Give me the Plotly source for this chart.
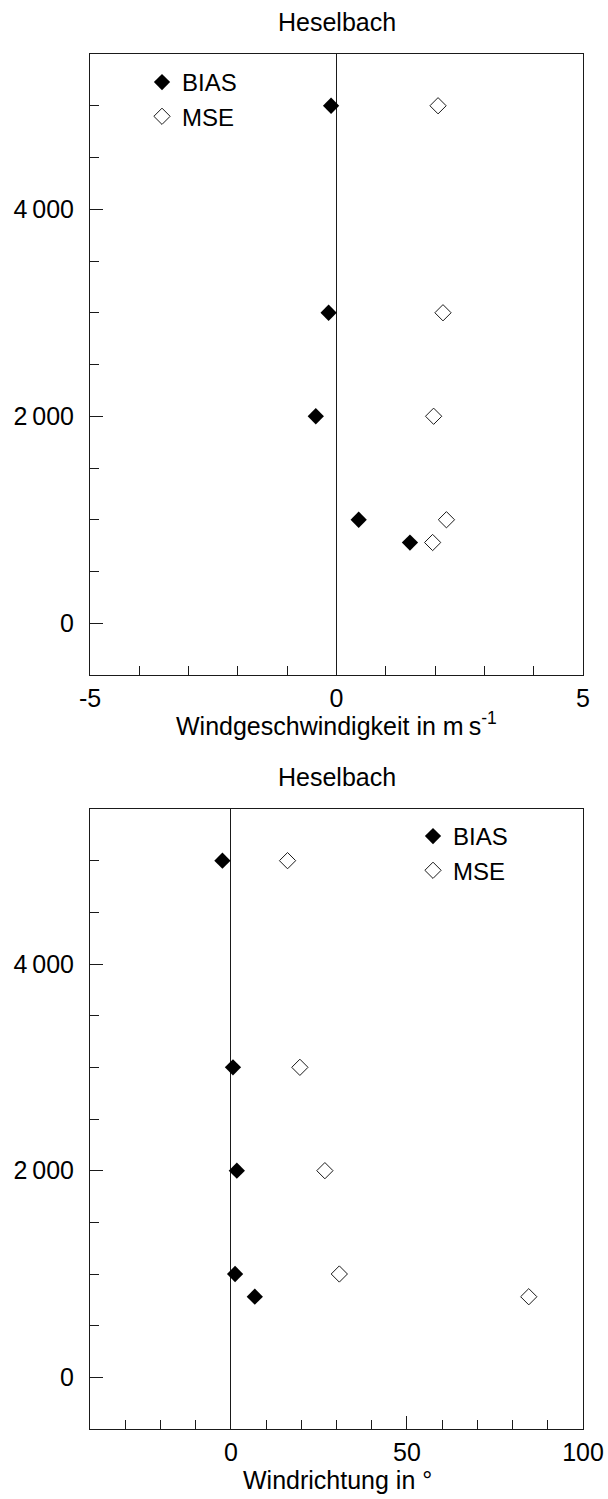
import plotly.graph_objects as go

# Heights (m) of the evaluated levels
heights = [5000, 3000, 2000, 1000, 780]

# Wind speed scores (m/s)
speed_bias = [-0.11, -0.16, -0.42, 0.45, 1.49]
speed_mse = [2.06, 2.16, 1.97, 2.23, 1.95]

# Wind direction scores (degrees)
dir_bias = [-2.4, 0.6, 1.7, 1.2, 6.8]
dir_mse = [16.1, 19.6, 26.7, 30.8, 84.6]

station = "Heselbach"
speed_title = "Windgeschwindigkeit in m\u2009s<sup>-1</sup>"
dir_title = "Windrichtung in °"

y_tickvals = [0, 2000, 4000]
y_ticktext = ["0", "2\u2009000", "4\u2009000"]
speed_tickvals = [-5, 0, 5]
speed_ticktext = ["-5", "0", "5"]
dir_tickvals = [0, 50, 100]
dir_ticktext = ["0", "50", "100"]

W, H = 608, 1499
FONT = "Liberation Sans, Arial, sans-serif"
FS = 25
LINE = "#1a1a1a"

def py(v):
    return 1 - v / H

def px_y(top, bottom):
    return [py(bottom), py(top)]

x_dom = [90 / W, 583 / W]

fig = go.Figure()

def add_pair(bias, mse, xa, ya, legend):
    fig.add_trace(go.Scatter(
        x=bias, y=heights, mode="markers", name="BIAS",
        xaxis=xa, yaxis=ya, legend=legend,
        marker=dict(symbol="diamond", size=12.5, color="black",
                    line=dict(width=0)),
    ))
    fig.add_trace(go.Scatter(
        x=mse, y=heights, mode="markers", name="MSE",
        xaxis=xa, yaxis=ya, legend=legend,
        marker=dict(symbol="diamond-open", size=12.5, color=LINE,
                    line=dict(width=1, color=LINE)),
    ))

add_pair(speed_bias, speed_mse, "x", "y", "legend")
add_pair(dir_bias, dir_mse, "x2", "y2", "legend2")

def yaxis(dom, anchor):
    return dict(
        domain=dom, anchor=anchor, range=[-500, 5500], automargin=False,
        showline=True, linecolor=LINE, linewidth=1, mirror=True,
        showgrid=False, zeroline=False,
        tickmode="array", tickvals=y_tickvals, ticktext=y_ticktext,
        ticks="inside", ticklen=13, tickwidth=1, tickcolor=LINE,
        minor=dict(tickmode="linear", tick0=0, dtick=500, ticks="inside",
                   ticklen=9, tickwidth=1, tickcolor=LINE, showgrid=False),
        ticklabelstandoff=10,
        tickfont=dict(family=FONT, size=FS, color="black"),
    )

def xaxis(dom, anchor, rng, tv, tt, mdt):
    return dict(
        domain=dom, anchor=anchor, range=rng, automargin=False,
        showline=True, linecolor=LINE, linewidth=1, mirror=True,
        showgrid=False, zeroline=True, zerolinecolor=LINE, zerolinewidth=1,
        tickmode="array", tickvals=tv, ticktext=tt,
        ticks="inside", ticklen=13, tickwidth=1, tickcolor=LINE,
        minor=dict(tickmode="linear", tick0=0, dtick=mdt, ticks="inside",
                   ticklen=9, tickwidth=1, tickcolor=LINE, showgrid=False),
        ticklabelstandoff=1,
        tickfont=dict(family=FONT, size=FS, color="black"),
    )

top_dom = px_y(54, 675)
bot_dom = px_y(809, 1429)

def label(text, x, y):
    return dict(text=text, x=x / W, y=py(y), xref="paper", yref="paper",
                xanchor="center", yanchor="middle", showarrow=False,
                font=dict(family=FONT, size=FS, color="black"))

legend_style = dict(xanchor="left", yanchor="top",
                    bgcolor="rgba(0,0,0,0)", borderwidth=0,
                    font=dict(family=FONT, size=24, color="black"),
                    itemwidth=30, tracegroupgap=0)

fig.update_layout(
    width=W, height=H,
    margin=dict(l=0, r=0, t=0, b=0, autoexpand=False),
    paper_bgcolor="white", plot_bgcolor="white",
    font=dict(family=FONT, size=FS, color="black"),
    showlegend=True,
    xaxis=xaxis(x_dom, "y", [-5, 5], speed_tickvals, speed_ticktext, 1),
    yaxis=yaxis(top_dom, "x"),
    xaxis2=xaxis(x_dom, "y2", [-40, 100], dir_tickvals, dir_ticktext, 10),
    yaxis2=yaxis(bot_dom, "x2"),
    legend=dict(x=142 / W, y=py(60), **legend_style),
    legend2=dict(x=413 / W, y=py(814), **legend_style),
    annotations=[
        label(station, 337, 22),
        label(station, 337, 777),
        label(speed_title, 336, 724),
        label(dir_title, 337, 1480),
    ],
)

fig.write_html("out.html")
